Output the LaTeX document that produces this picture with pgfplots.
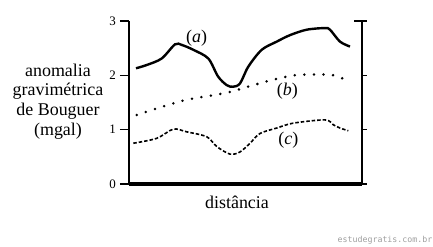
\documentclass[border=0pt]{standalone}
\usepackage{pgfplots}
\pgfplotsset{compat=1.18}
\usepackage{fontspec}
\setmainfont{Liberation Serif}
\newfontfamily\wmfont{DejaVu Sans Mono}
\begin{document}
\begin{tikzpicture}
\useasboundingbox (0bp,0bp) rectangle (433bp,247bp);
\begin{axis}[
  at={(129bp,63bp)}, anchor=south west,
  scale only axis, width=233bp, height=163bp,
  xmin=129, xmax=362, ymin=0, ymax=3,
  axis x line=bottom, axis y line=left,
  axis line style={-},
  x axis line style={line width=3.5bp},
  y axis line style={line width=2.2bp},
  xtick=\empty, ytick={0,1,2,3},
  tick align=outside, major tick length=9bp,
  tick style={line width=1.5bp, black},
  yticklabel style={font=\fontsize{13}{13}\selectfont, inner sep=0pt, anchor=east, xshift=-4bp},
  /pgf/number format/assume math mode=true,
  clip=false,
]
\addplot[black, line width=2.4bp, smooth, tension=0.5] coordinates {
(136,2.13) (146.7,2.19) (161.7,2.31) (175,2.57) (181.7,2.56) (193.3,2.47)
(208.3,2.31) (218,1.98) (226.7,1.82) (233,1.79) (240,1.85) (248.3,2.16)
(261.7,2.47) (276.7,2.62) (290,2.74) (306.7,2.84) (325,2.87) (330,2.84)
(340,2.62) (350,2.53)};
\addplot[black, line width=2.8bp, line cap=round, dash pattern=on 0bp off 9.6bp, smooth, tension=0.5] coordinates {
(136.7,1.27) (156.7,1.39) (186.7,1.55) (226.7,1.68) (253.3,1.82)
(280,1.95) (300,2.01) (330,2.01) (340,1.96) (348.3,1.90)};
\addplot[black, line width=1.6bp, dash pattern=on 3.5bp off 2bp, smooth, tension=0.5] coordinates {
(133.3,0.75) (156.7,0.84) (173.3,1.01) (186.7,0.96) (206.7,0.87) (216.7,0.69)
(230,0.55) (240,0.59) (250,0.75) (260,0.93) (276.7,1.03) (293.3,1.12)
(325,1.18) (333.3,1.09) (340,1.03) (348.3,0.98)};
\draw[line width=2bp] (rel axis cs:1,0) -- (rel axis cs:1,1);
\draw[line width=1.5bp] (axis cs:362,3) ++(-8bp,0bp) -- ++(13bp,0bp);
\draw[line width=1.5bp] (axis cs:362,2) -- ++(5bp,0bp);
\draw[line width=1.5bp] (axis cs:362,1) -- ++(5bp,0bp);
\draw[line width=1.5bp] (axis cs:362,0) -- ++(5bp,0bp);
\node[font=\fontsize{18}{18}\selectfont] at (axis cs:196.7,2.69) {(\textit{a})};
\node[font=\fontsize{18}{18}\selectfont] at (axis cs:287.3,1.70) {(\textit{b})};
\node[font=\fontsize{18}{18}\selectfont] at (axis cs:288.3,0.80) {(\textit{c})};
\end{axis}
\node[align=center, font=\fontsize{18}{19.7}\selectfont] at (58bp,145.5bp) {anomalia\\gravimétrica\\de Bouguer\\(mgal)};
\node[font=\fontsize{18}{18}\selectfont] at (237bp,45bp) {distância};
\node[font=\wmfont\fontsize{8.3}{8.3}\selectfont, text=black!38] at (385bp,7bp) {estudegratis.com.br};
\end{tikzpicture}
\end{document}
